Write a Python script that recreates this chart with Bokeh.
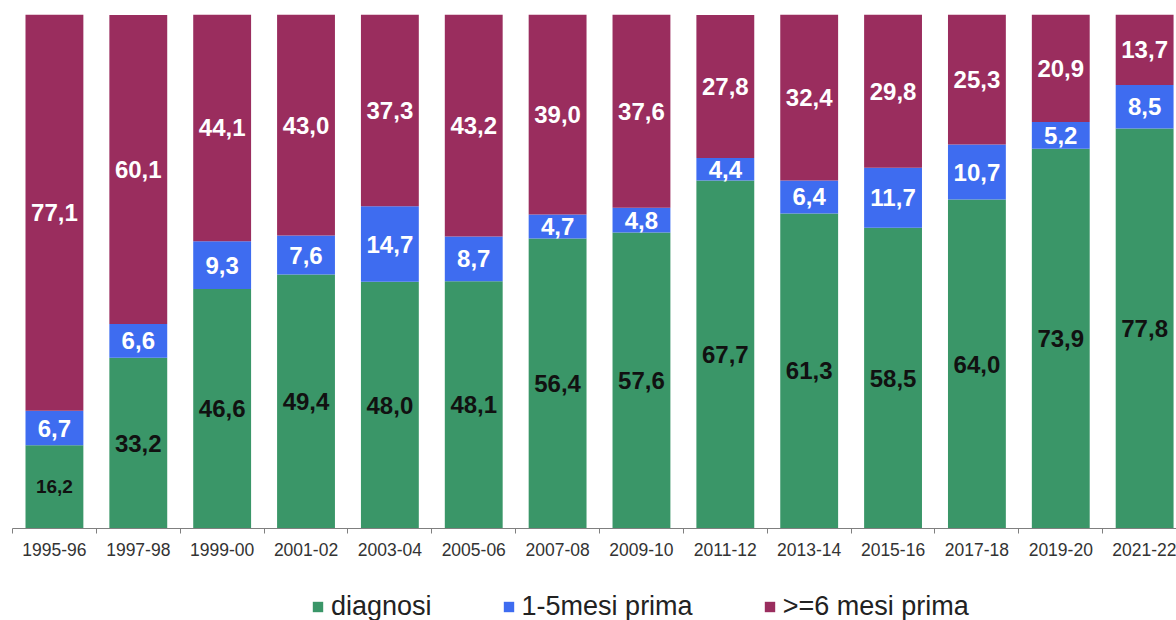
from bokeh.plotting import figure
from bokeh.layouts import column
from bokeh.models import ColumnDataSource, FixedTicker, Legend, LegendItem, LabelSet
from bokeh.core.properties import value
from bokeh.embed import file_html
from bokeh.resources import INLINE

# Survey years and share (%) of cases by timing of the first contact
years = ["1995-96", "1997-98", "1999-00", "2001-02", "2003-04", "2005-06", "2007-08",
         "2009-10", "2011-12", "2013-14", "2015-16", "2017-18", "2019-20", "2021-22"]
diagnosi = [16.2, 33.2, 46.6, 49.4, 48.0, 48.1, 56.4, 57.6, 67.7, 61.3, 58.5, 64.0, 73.9, 77.8]
mesi_1_5 = [6.7, 6.6, 9.3, 7.6, 14.7, 8.7, 4.7, 4.8, 4.4, 6.4, 11.7, 10.7, 5.2, 8.5]
mesi_6 = [77.1, 60.1, 44.1, 43.0, 37.3, 43.2, 39.0, 37.6, 27.8, 32.4, 29.8, 25.3, 20.9, 13.7]

series_names = ["diagnosi", "1-5mesi prima", ">=6 mesi prima"]
colors = ["#3a9668", "#3e6cf0", "#9a2d5e"]
label_colors = ["#111111", "#ffffff", "#ffffff"]

x = list(range(len(years)))
fmt = lambda v: f"{v:.1f}".replace(".", ",")
font = "Liberation Sans"

p = figure(width=1176, height=570, x_range=(-0.5, 13.38), y_range=(0, 100),
           output_backend="svg", toolbar_location=None,
           min_border_left=12, min_border_right=0, min_border_top=14, min_border_bottom=42)
p.outline_line_color = None
p.xgrid.visible = False
p.ygrid.visible = False
p.yaxis.visible = False

bottom = [0.0] * len(years)
for vals, color, lc, name in zip([diagnosi, mesi_1_5, mesi_6], colors, label_colors, series_names):
    top = [b + v for b, v in zip(bottom, vals)]
    mid = [(b + t) / 2 for b, t in zip(bottom, top)]
    src = ColumnDataSource(dict(x=x, bottom=bottom, top=top, mid=mid,
                                lab=[fmt(v) for v in vals],
                                size=["19px" if (name == "diagnosi" and v < 20) else "24px" for v in vals]))
    p.vbar(x="x", bottom="bottom", top="top", width=0.69, source=src,
           fill_color=color, line_color=None)
    p.add_layout(LabelSet(x="x", y="mid", text="lab", source=src, text_align="center",
                          text_baseline="middle", text_color=lc, text_font=value(font),
                          text_font_style="bold", text_font_size="size"))
    bottom = top

ax = p.xaxis[0]
ax.ticker = FixedTicker(ticks=x, minor_ticks=[i - 0.5 for i in range(len(years) + 1)])
ax.major_label_overrides = {i: y for i, y in enumerate(years)}
ax.major_tick_out = 0
ax.major_tick_in = 0
ax.minor_tick_out = 5
ax.minor_tick_in = 0
ax.minor_tick_line_color = "#7f7f7f"
ax.axis_line_color = "#7f7f7f"
ax.major_label_text_font = font
ax.major_label_text_font_size = "17.5px"
ax.major_label_text_color = "#333333"
ax.major_label_standoff = 9

# Legend strip under the chart; its swatch renderers sit outside the visible range
lg = figure(width=1176, height=50, x_range=(0, 1), y_range=(0, 1),
            output_backend="svg", toolbar_location=None,
            x_axis_type=None, y_axis_type=None, min_border=0)
lg.outline_line_color = None
lg.xgrid.visible = False
lg.ygrid.visible = False
items = []
for color, name in zip(colors, series_names):
    r = lg.vbar(x=[-5], bottom=[-5], top=[-4], width=0.1, fill_color=color, line_color=None)
    items.append(LegendItem(label=name, renderers=[r]))
legend = Legend(items=items, orientation="horizontal", location=(299, -2),
                label_text_font=font, label_text_font_size="27px", label_text_color="#222222",
                glyph_width=13, glyph_height=13, label_height=28, label_standoff=7, spacing=70,
                border_line_color=None, background_fill_alpha=0, padding=0, margin=0)
lg.add_layout(legend, "center")

open("out.html", "w").write(file_html(column(p, lg, spacing=0), INLINE))
